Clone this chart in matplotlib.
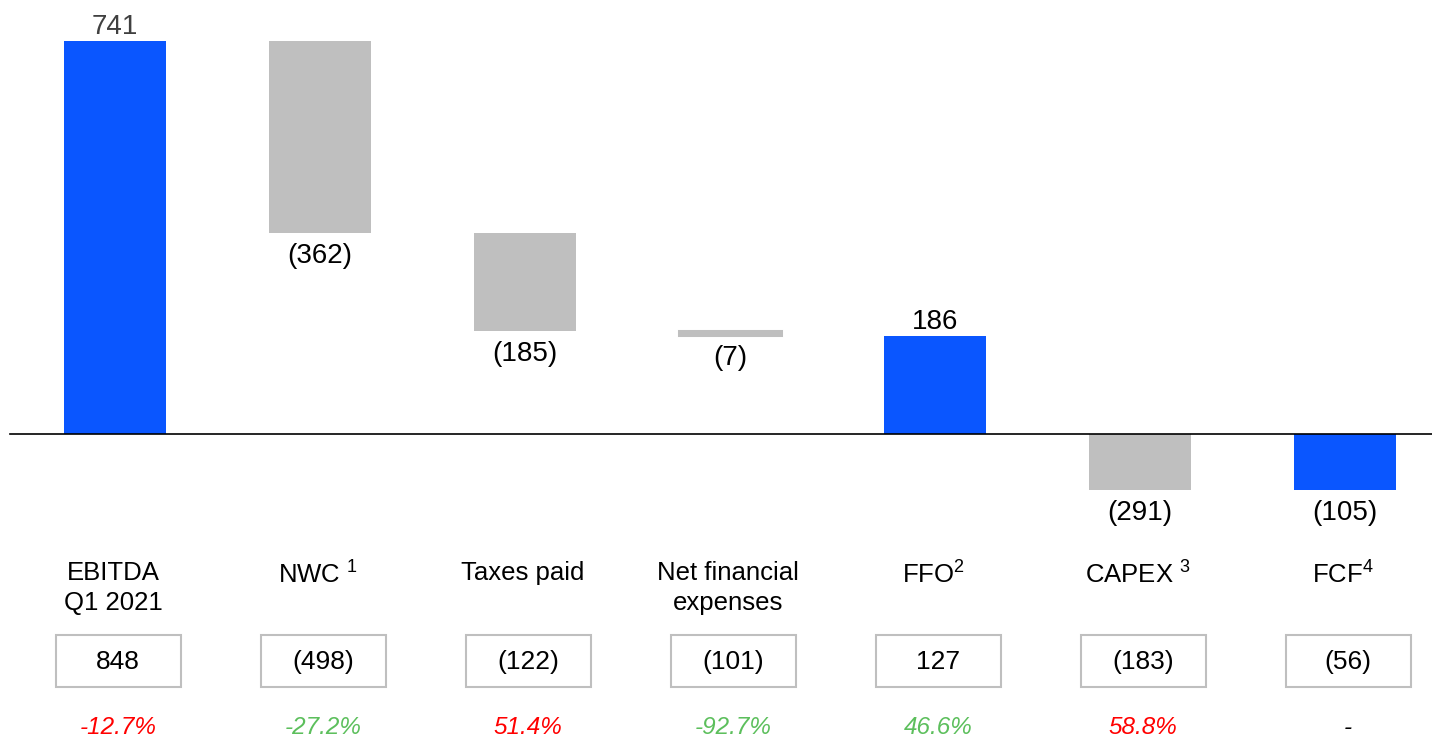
import numpy as np
import matplotlib
matplotlib.use("Agg")
import matplotlib.pyplot as plt
from matplotlib.patches import Rectangle

plt.rcParams['font.family'] = ['Liberation Sans', 'DejaVu Sans']
plt.rcParams['mathtext.fontset'] = 'custom'
plt.rcParams['mathtext.rm'] = 'Liberation Sans'
plt.rcParams['mathtext.it'] = 'Liberation Sans:italic'

# data
categories = ["EBITDA\nQ1 2021", "NWC $^{1}$", "Taxes paid", "Net financial\nexpenses",
              "FFO$^{2}$", "CAPEX $^{3}$", "FCF$^{4}$"]
values = [741, -362, -185, -7, 186, -291, -105]
is_total = [True, False, False, False, True, False, True]
value_labels = ["741", "(362)", "(185)", "(7)", "186", "(291)", "(105)"]
prev_year = ["848", "(498)", "(122)", "(101)", "127", "(183)", "(56)"]
change = ["-12.7%", "-27.2%", "51.4%", "-92.7%", "46.6%", "58.8%", "-"]
change_color = ["#FF0000", "#5CBF5C", "#FF0000", "#5CBF5C", "#5CBF5C", "#FF0000", "#000000"]

blue = "#0A56FF"
gray = "#BFBFBF"

fig = plt.figure(figsize=(14.32, 7.40), dpi=100)
ax = fig.add_axes([0, 0, 1, 1])
ax.set_xlim(-0.561, 6.424)
ax.set_ylim(-577, 819)
ax.axis("off")

x = np.arange(len(values))
running = 0
segs = []
for v, tot in zip(values, is_total):
    if tot:
        lo, hi = min(0, v), max(0, v)
        running = v
    else:
        lo, hi = sorted([running, running + v])
        running += v
        if lo < 0 < hi:  # only the part under the axis is shown
            hi = 0
    segs.append((lo, hi))

colors = [blue if t else gray for t in is_total]
for i, (lo, hi) in enumerate(segs):
    if hi - lo < 10:
        ax.bar(x[i], hi - lo, bottom=lo, width=0.5, color=colors[i],
               edgecolor=colors[i], linewidth=2.2)
    else:
        ax.bar(x[i], hi - lo, bottom=lo, width=0.5, color=colors[i], linewidth=0)

ax.plot([-0.512, 6.424], [0, 0], color="black", lw=1.2, zorder=3)

# value labels
for i, (lo, hi) in enumerate(segs):
    if values[i] > 0:
        ax.text(x[i], hi + 13, value_labels[i], ha="center", va="baseline",
                fontsize=20, color="#404040" if i == 0 else "black")
    else:
        ax.text(x[i], lo - 19, value_labels[i], ha="center", va="top", fontsize=20)

# category labels, boxes, changes
px = 0.53  # px per unit
def py(p):
    return (434 - p) / px

for i, cat in enumerate(categories):
    ax.text(x[i] - 0.01, py(561), cat, ha="center", va="top", fontsize=18.5,
            linespacing=1.32)
    bx = x[i] + 0.015
    bw = 125 / 205
    bh = 52 / px
    ax.add_patch(Rectangle((bx - bw / 2, py(687)), bw, bh, facecolor="white",
                           edgecolor=gray, lw=1.5))
    ax.text(bx, py(662), prev_year[i], ha="center", va="center", fontsize=19)
    ax.text(bx, py(734), change[i], ha="center", va="baseline", fontsize=17.5,
            style="italic", color=change_color[i])

fig.savefig("out.png", dpi=100)
